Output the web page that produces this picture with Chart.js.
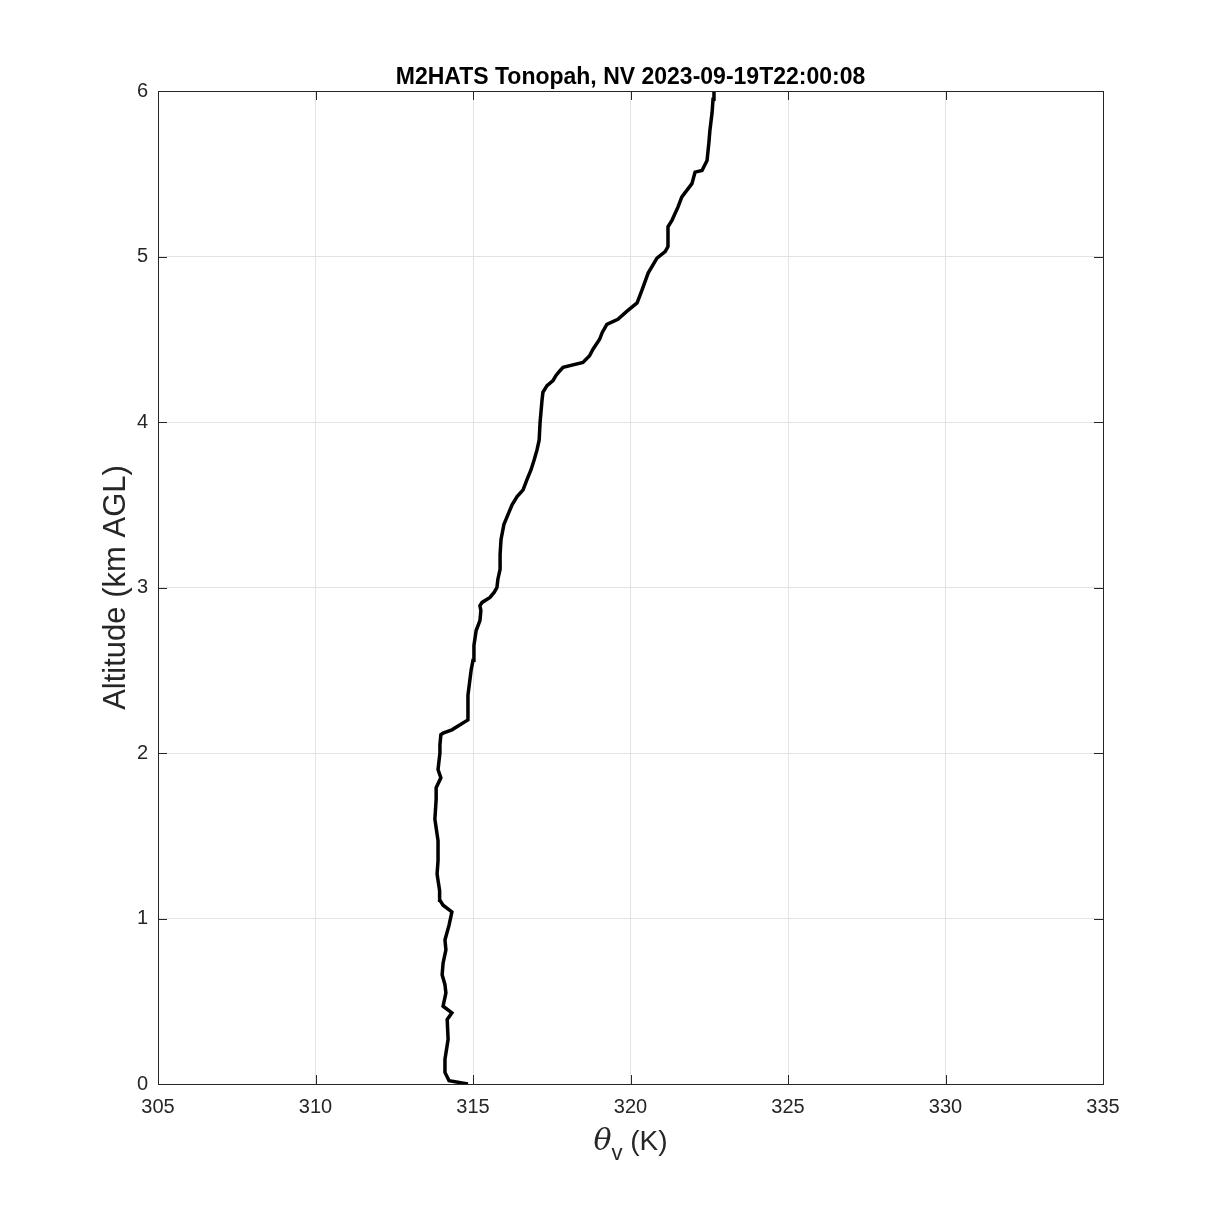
<!DOCTYPE html>
<html>
<head>
<meta charset="utf-8">
<script src="https://cdn.jsdelivr.net/npm/chart.js@4/dist/chart.umd.min.js"></script>
<style>
  html, body { margin: 0; padding: 0; background: #ffffff; }
  canvas { display: block; }
</style>
</head>
<body>
<canvas id="myChart" width="1219" height="1219"></canvas>
<script>
// sounding profile (bottom to top)
var altitude = [
  0.00, 0.02, 0.07, 0.15, 0.27, 0.39, 0.43, 0.47, 0.55, 0.60,
  0.66, 0.73, 0.81, 0.87, 0.96, 1.04, 1.08, 1.11, 1.17, 1.23,
  1.27, 1.35, 1.47, 1.60, 1.72, 1.79, 1.85, 1.90, 2.00, 2.05,
  2.11, 2.12, 2.14, 2.17, 2.20, 2.32, 2.35, 2.44, 2.50, 2.56,
  2.65, 2.74, 2.80, 2.86, 2.89, 2.91, 2.94, 2.97, 3.00, 3.05,
  3.11, 3.20, 3.29, 3.38, 3.44, 3.50, 3.55, 3.59, 3.65, 3.71,
  3.77, 3.83, 3.89, 4.00, 4.13, 4.18, 4.22, 4.25, 4.28, 4.31,
  4.33, 4.36, 4.40, 4.44, 4.50, 4.54, 4.59, 4.62, 4.67, 4.72,
  4.80, 4.90, 4.99, 5.03, 5.06, 5.18, 5.22, 5.30, 5.36, 5.44,
  5.51, 5.52, 5.58, 5.69, 5.76, 5.87, 5.95, 6.00
];
var thetaV = [
  314.84, 314.24, 314.11, 314.11, 314.21, 314.18, 314.33, 314.05, 314.14, 314.11,
  314.02, 314.05, 314.14, 314.11, 314.24, 314.33, 314.05, 313.95, 313.94, 313.89,
  313.86, 313.89, 313.89, 313.79, 313.83, 313.83, 313.98, 313.89, 313.95, 313.95,
  313.98, 314.05, 314.33, 314.59, 314.84, 314.84, 314.84, 314.90, 314.94, 315.00,
  315.03, 315.10, 315.22, 315.25, 315.22, 315.29, 315.54, 315.67, 315.76, 315.79,
  315.86, 315.86, 315.89, 315.98, 316.11, 316.24, 316.40, 316.59, 316.71, 316.84,
  316.94, 317.03, 317.10, 317.13, 317.19, 317.22, 317.35, 317.54, 317.63, 317.76,
  317.86, 318.49, 318.70, 318.81, 319.02, 319.10, 319.25, 319.60, 319.89, 320.21,
  320.37, 320.56, 320.84, 321.10, 321.19, 321.19, 321.32, 321.51, 321.63, 321.95,
  322.05, 322.27, 322.43, 322.49, 322.52, 322.59, 322.62, 322.65
];
var xRange = [305, 335];
var yRange = [0, 6];
var titleText = "M2HATS Tonopah, NV 2023-09-19T22:00:08";
var yLabel = "Altitude (km AGL)";

var FONT = "'Liberation Sans', Arial, Helvetica, sans-serif";
var TEXT = "#262626";

var points = altitude.map(function (a, i) {
  return { x: thetaV[i], y: a };
});

// box + inward ticks on all four sides, like the original figure
var boxPlugin = {
  id: "box",
  afterDatasetsDraw: function (chart) {
    var ctx = chart.ctx;
    var a = chart.chartArea;
    var len = 9;
    ctx.save();
    ctx.strokeStyle = TEXT;
    ctx.lineWidth = 1;
    ctx.strokeRect(a.left + 0.5, a.top + 0.5, a.right - a.left, a.bottom - a.top);
    ctx.beginPath();
    chart.scales.x.ticks.forEach(function (t) {
      var px = Math.round(chart.scales.x.getPixelForValue(t.value)) + 0.5;
      ctx.moveTo(px, a.bottom);
      ctx.lineTo(px, a.bottom - len);
      ctx.moveTo(px, a.top);
      ctx.lineTo(px, a.top + len);
    });
    chart.scales.y.ticks.forEach(function (t) {
      var py = Math.round(chart.scales.y.getPixelForValue(t.value)) + 0.5;
      ctx.moveTo(a.left, py);
      ctx.lineTo(a.left + len, py);
      ctx.moveTo(a.right, py);
      ctx.lineTo(a.right - len, py);
    });
    ctx.stroke();
    ctx.restore();
  },
  afterDraw: function (chart) {
    var ctx = chart.ctx;
    var a = chart.chartArea;
    var cx = (a.left + a.right) / 2;
    ctx.save();
    ctx.fillStyle = "#000000";
    ctx.textAlign = "center";
    ctx.textBaseline = "alphabetic";
    ctx.font = "bold 23px " + FONT;
    ctx.fillText(titleText, cx, 84);

    // y axis title
    ctx.fillStyle = TEXT;
    ctx.save();
    ctx.translate(125, (a.top + a.bottom) / 2);
    ctx.rotate(-Math.PI / 2);
    ctx.font = "31px " + FONT;
    ctx.textAlign = "center";
    ctx.fillText(yLabel, 0, 0);
    ctx.restore();

    // x axis title: theta with subscript v
    ctx.textAlign = "left";
    var base = 1150;
    ctx.font = "italic 30px 'DejaVu Serif', serif";
    var wTheta = ctx.measureText("\u03b8").width;
    ctx.font = "22px " + FONT;
    var wSub = ctx.measureText("v").width;
    ctx.font = "28px " + FONT;
    var wK = ctx.measureText(" (K)").width;
    var x0 = cx - (wTheta + wSub + wK) / 2;
    ctx.font = "italic 30px 'DejaVu Serif', serif";
    ctx.fillText("\u03b8", x0, base);
    ctx.font = "22px " + FONT;
    ctx.fillText("v", x0 + wTheta, base + 10);
    ctx.font = "28px " + FONT;
    ctx.fillText(" (K)", x0 + wTheta + wSub, base);
    ctx.restore();
  }
};

var ctx = document.getElementById("myChart").getContext("2d");
new Chart(ctx, {
  type: "scatter",
  data: {
    datasets: [
      {
        data: points,
        showLine: true,
        borderColor: "#000000",
        backgroundColor: "#000000",
        borderWidth: 3.5,
        pointRadius: 0,
        tension: 0,
        fill: false
      }
    ]
  },
  options: {
    responsive: false,
    animation: false,
    layout: { padding: { top: 91, right: 116, left: 0, bottom: 0 } },
    plugins: {
      legend: { display: false },
      tooltip: { enabled: false },
      title: { display: false }
    },
    scales: {
      x: {
        type: "linear",
        min: xRange[0],
        max: xRange[1],
        afterFit: function (scale) { scale.height = 135; },
        ticks: {
          stepSize: 5,
          padding: 11,
          color: TEXT,
          font: { family: FONT, size: 20 }
        },
        grid: { color: "#e3e3e3", lineWidth: 1, drawTicks: false },
        border: { display: false }
      },
      y: {
        type: "linear",
        min: yRange[0],
        max: yRange[1],
        afterFit: function (scale) { scale.width = 158; },
        ticks: {
          stepSize: 1,
          padding: 10,
          color: TEXT,
          font: { family: FONT, size: 20 }
        },
        grid: { color: "#e3e3e3", lineWidth: 1, drawTicks: false },
        border: { display: false }
      }
    }
  },
  plugins: [boxPlugin]
});
</script>
</body>
</html>
